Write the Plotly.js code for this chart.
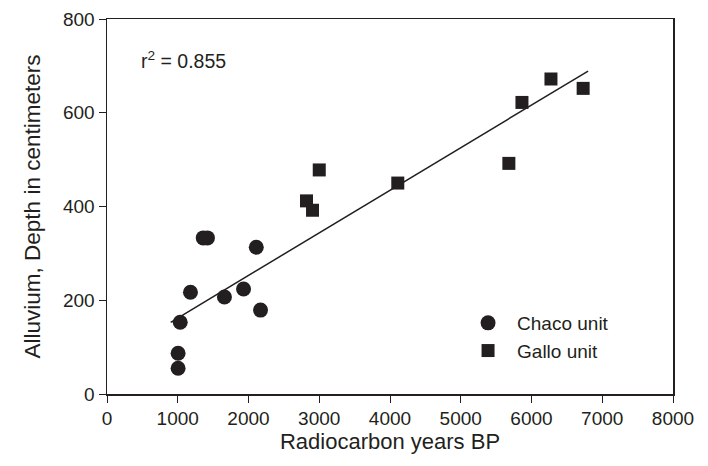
<!DOCTYPE html>
<html><head><meta charset="utf-8">
<script src="https://cdn.plot.ly/plotly-3.0.1.min.js"></script>
<style>html,body{margin:0;padding:0;background:#fff}</style>
</head><body><div id="chart" style="width:708px;height:466px"></div>
<script>
const chacoYears = [1005, 1005, 1035, 1360, 1420, 1180, 1660, 1930, 2110, 2170];
const chacoDepth = [55, 87, 153, 333, 333, 217, 207, 224, 313, 179];
const galloYears = [3000, 2820, 2905, 4110, 6275, 5865, 6730, 5680];
const galloDepth = [478, 412, 392, 450, 672, 622, 652, 492];
const fitYears = [900, 6800];
const fitDepth = [153, 689];
const xTicks = [0,1000,2000,3000,4000,5000,6000,7000,8000];
const yTicks = [0,200,400,600,800];
const ink = '#231f20';
const font = 'Liberation Sans, Arial, sans-serif';

const traces = [
  {x: fitYears, y: fitDepth, mode: 'lines', line: {color: ink, width: 1.5}, showlegend: false, hoverinfo: 'skip'},
  {x: chacoYears, y: chacoDepth, mode: 'markers', name: 'Chaco unit',
   marker: {symbol: 'circle', size: 15, color: ink}},
  {x: galloYears, y: galloDepth, mode: 'markers', name: 'Gallo unit',
   marker: {symbol: 'square', size: 13, color: ink}}
];
const axisCommon = {showgrid: false, zeroline: false, showline: true, linecolor: ink, linewidth: 1.5,
  mirror: true, ticks: 'outside', ticklen: 7, tickcolor: ink, tickwidth: 1,
  tickfont: {family: font, size: 19, color: ink}};
const layout = {
  width: 708, height: 466,
  margin: {l: 107, r: 35, t: 19, b: 72},
  paper_bgcolor: '#fff', plot_bgcolor: '#fff',
  font: {family: font, color: ink},
  xaxis: Object.assign({}, axisCommon, {range: [0, 8000], tickvals: xTicks, ticktext: xTicks.map(String),
    title: {text: 'Radiocarbon years BP', font: {family: font, size: 22, color: ink}, standoff: 5}}),
  yaxis: Object.assign({}, axisCommon, {range: [0, 800], tickvals: yTicks, ticktext: yTicks.map(String),
    title: {text: 'Alluvium, Depth in centimeters', font: {family: font, size: 22.5, color: ink}, standoff: 16}}),
  legend: {x: 0.622, y: 0.24, xanchor: 'left', yanchor: 'top', bgcolor: 'rgba(0,0,0,0)',
    font: {family: font, size: 19, color: ink}, itemwidth: 48, tracegroupgap: 0},
  annotations: [{xref: 'paper', yref: 'paper', x: 0.057, y: 0.89, xanchor: 'left', yanchor: 'middle',
    text: 'r<sup>2</sup> = 0.855', showarrow: false, font: {family: font, size: 19.5, color: ink}}]
};
Plotly.newPlot('chart', traces, layout, {displayModeBar: false, staticPlot: true});
</script></body></html>
